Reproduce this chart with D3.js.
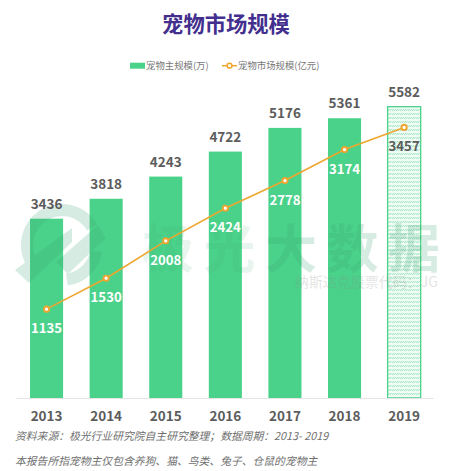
<!DOCTYPE html>
<html><head><meta charset="utf-8">
<script src="https://cdn.jsdelivr.net/npm/d3@7"></script>
<style>html,body{margin:0;padding:0;background:#fff}svg{display:block}text{font-family:"Noto Sans CJK SC","Noto Sans",sans-serif}</style>
</head><body><div id="c"></div>
<script>
const years = ["2013","2014","2015","2016","2017","2018","2019"];
const owners = [3436,3818,4243,4722,5176,5361,5582];
const market = [1135,1530,2008,2424,2778,3174,3457];
const hatchedYears = ["2019"];
const title = "宠物市场规模";
const legendLabels = ["宠物主规模(万)","宠物市场规模(亿元)"];
const notes = ["资料来源：极光行业研究院自主研究整理；数据周期：2013- 2019","本报告所指宠物主仅包含养狗、猫、鸟类、兔子、仓鼠的宠物主"];
const wmText = ["极","光","大","数","据"];
const wmSub = "纳斯达克股票代码：JG";

const W=452,H=471,base=398;
const svg=d3.select("#c").append("svg").attr("width",W).attr("height",H);
const GREEN="#4bd28a",ORANGE="#eea62f",GREY="#5c5c5c",WM="#3a9f6e";
const defs=svg.append("defs");
const p=defs.append("pattern").attr("id","hatch").attr("patternUnits","userSpaceOnUse").attr("width",4).attr("height",4);
p.append("rect").attr("width",4).attr("height",4).attr("fill","#f0fbf5");
p.append("path").attr("d",d3.line()([[0,3.2],[1.6,1],[2.2,2.8],[4,.8]])).attr("fill","none").attr("stroke","#9be4be").attr("stroke-width",.8);

const x=d3.scaleBand().domain(years).range([16.5,434.2]).paddingInner(.445).paddingOuter(.227);
const yBar=d3.scaleLinear().domain([0,5582]).range([base,106.7]);
const yLine=d3.scaleLinear().domain([0,3457]).range([base,127.4]);
const cx=d=>x(d)+x.bandwidth()/2;

svg.append("text").attr("x",226).attr("y",32).attr("text-anchor","middle").attr("font-size",21.3).attr("font-weight",700).attr("fill","#432f8e").text(title);

// legend
svg.append("rect").attr("x",130).attr("y",62.7).attr("width",15).attr("height",6).attr("fill",GREEN);
svg.append("text").attr("x",146).attr("y",69).attr("font-size",9.4).attr("fill","#777").text(legendLabels[0]);
svg.append("line").attr("x1",222).attr("x2",237).attr("y1",65.7).attr("y2",65.7).attr("stroke",ORANGE).attr("stroke-width",1.5);
svg.append("circle").attr("cx",229.5).attr("cy",65.7).attr("r",2.4).attr("fill","#fff").attr("stroke",ORANGE).attr("stroke-width",1.5);
svg.append("text").attr("x",238).attr("y",69).attr("font-size",9.4).attr("fill","#777").text(legendLabels[1]);

// bars
svg.selectAll("rect.bar").data(years).join("rect").attr("class","bar")
 .attr("x",d=>x(d)).attr("width",x.bandwidth())
 .attr("y",(d,i)=>yBar(owners[i])).attr("height",(d,i)=>base-yBar(owners[i]))
 .attr("fill",d=>hatchedYears.includes(d)?"url(#hatch)":GREEN)
 .attr("stroke",d=>hatchedYears.includes(d)?GREEN:"none").attr("stroke-width",1.3);

// axis
const ax=svg.append("g").attr("transform",`translate(0,${base})`).call(d3.axisBottom(x).tickSize(0).tickPadding(13));
ax.select(".domain").attr("d","M16.5,0.5H433.5").attr("stroke","#e4e4e4").attr("stroke-width",1);
ax.selectAll("text").attr("font-size",13.5).attr("font-weight",700).attr("fill",GREY).attr("font-family",'"Noto Sans CJK SC"');

// watermark
const wm=svg.append("g").attr("fill",WM).attr("opacity",.2);
const ringArc=d3.arc().innerRadius(29).outerRadius(41);
wm.append("path").attr("transform","translate(62,245)").attr("d",ringArc({startAngle:-2.2,endAngle:1.05}));
wm.append("path").attr("transform","translate(62,245)").attr("d",ringArc({startAngle:1.75,endAngle:3.0}));
wm.append("path").attr("d","M15,270 L72,228 L72,242 L29,283 Z");
wm.append("path").attr("d","M56,262 L98,225 L106,238 L68,274 Z");
wm.selectAll("text.w").data(wmText).join("text").attr("class","w")
 .attr("x",(d,i)=>168+i*61.5).attr("y",268).attr("text-anchor","middle").attr("font-size",52).attr("font-weight",700)
 .attr("opacity",(d,i)=>i<2?.55:1).text(d=>d);
svg.append("text").attr("x",438).attr("y",287).attr("text-anchor","end").attr("font-size",14).attr("fill","#888").attr("opacity",.22).text(wmSub);

// line
svg.append("path").attr("d",d3.line().x(d=>cx(d)).y((d,i)=>yLine(market[i]))(years)).attr("fill","none").attr("stroke",ORANGE).attr("stroke-width",1.6);
svg.selectAll("circle.pt").data(years).join("circle").attr("class","pt")
 .attr("cx",cx).attr("cy",(d,i)=>yLine(market[i])).attr("r",2.6).attr("fill","#fff").attr("stroke",ORANGE).attr("stroke-width",1.9);

// labels
svg.selectAll("text.own").data(years).join("text").attr("class","own")
 .attr("x",cx).attr("y",(d,i)=>yBar(owners[i])-10).attr("text-anchor","middle").attr("font-size",13.5).attr("font-weight",700).attr("fill",GREY)
 .text((d,i)=>owners[i]);
svg.selectAll("text.mkt").data(years).join("text").attr("class","mkt")
 .attr("x",cx).attr("y",(d,i)=>yLine(market[i])+24).attr("text-anchor","middle").attr("font-size",13.2).attr("font-weight",700)
 .attr("fill",d=>hatchedYears.includes(d)?GREY:"#fff")
 .text((d,i)=>market[i]);

// notes
svg.selectAll("text.note").data(notes).join("text").attr("class","note")
 .attr("x",15).attr("y",(d,i)=>i?465:440).attr("font-size",10.8).attr("font-style","italic").attr("fill","#707070").text(d=>d);
</script></body></html>
